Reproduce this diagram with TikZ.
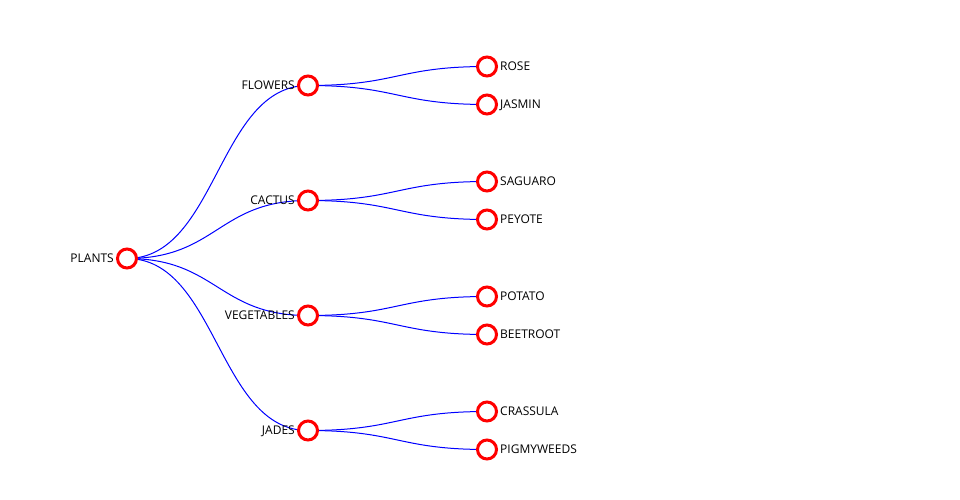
\documentclass[tikz,border=0pt]{standalone}
\usepackage{fontspec}
\setmainfont{Open Sans}
\usetikzlibrary{positioning,backgrounds}

\begin{document}
\begin{tikzpicture}[
	x=1pt,y=-1pt,
	plant/.style={
		circle,
		draw=red,
		line width=3pt,
		fill=white,
		inner sep=0pt,
		minimum size=19pt
	},
	link/.style={
		draw=blue,
		line width=1pt,
		out=0, in=180,
		distance=90pt
	},
	every label/.style={
		font=\fontsize{12}{14}\selectfont,
		text height=8.6pt, text depth=0pt,
		inner sep=2pt
	},
	]
	\useasboundingbox (0,-0.5) rectangle (960,499.5);
	
	\node[plant,label=left:PLANTS] (plants) at (127,258) {};
	
	\node[plant,label=left:FLOWERS] (flowers) at (308,85) {};
	\node[plant,label=left:CACTUS] (cactus) at (308,200) {};
	\node[plant,label=left:VEGETABLES] (vegetables) at (308,315) {};
	\node[plant,label=left:JADES] (jades) at (308,430) {};
	
	\node[plant,label=right:ROSE] (rose) at (487,66) {};
	\node[plant,label=right:JASMIN] (jasmin) at (487,104) {};
	\node[plant,label=right:SAGUARO] (saguaro) at (487,181) {};
	\node[plant,label=right:PEYOTE] (peyote) at (487,219) {};
	\node[plant,label=right:POTATO] (potato) at (487,296) {};
	\node[plant,label=right:BEETROOT] (beetroot) at (487,334) {};
	\node[plant,label=right:CRASSULA] (crassula) at (487,411) {};
	\node[plant,label=right:PIGMYWEEDS] (pigmyweeds) at (487,449) {};
	
	% links go behind the circles
	\begin{scope}[on background layer]
		\foreach \kind in {flowers,cactus,vegetables,jades}
			\draw[link] (plants.center) to (\kind.center);
		\draw[link] (flowers.center) to (rose.center);
		\draw[link] (flowers.center) to (jasmin.center);
		\draw[link] (cactus.center) to (saguaro.center);
		\draw[link] (cactus.center) to (peyote.center);
		\draw[link] (vegetables.center) to (potato.center);
		\draw[link] (vegetables.center) to (beetroot.center);
		\draw[link] (jades.center) to (crassula.center);
		\draw[link] (jades.center) to (pigmyweeds.center);
	\end{scope}
\end{tikzpicture}
\end{document}
